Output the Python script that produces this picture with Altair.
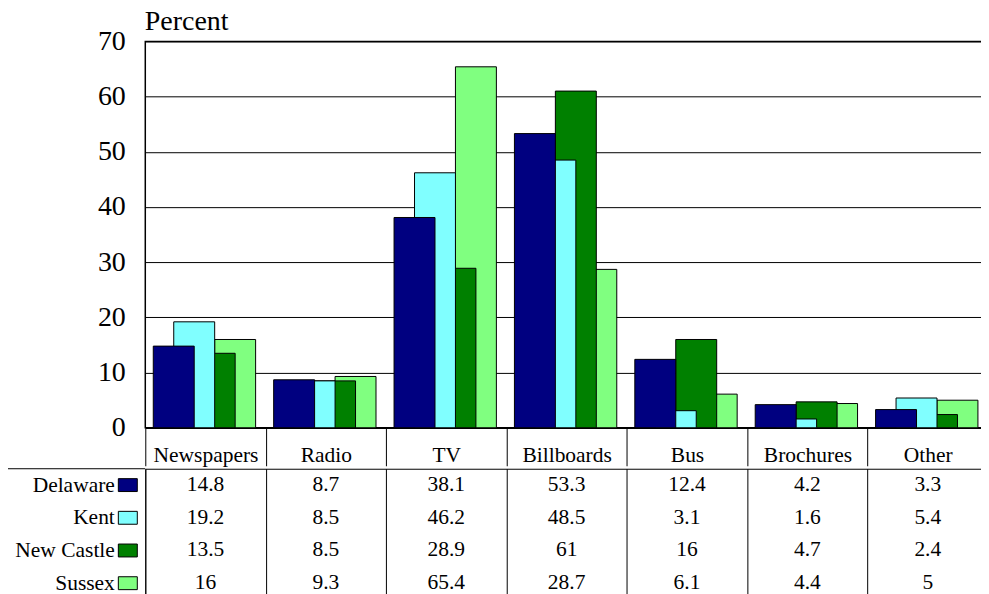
import pandas as pd
import altair as alt

# Chart data
categories = ["Newspapers", "Radio", "TV", "Billboards", "Bus", "Brochures", "Other"]
counties = ["Delaware", "Kent", "New Castle", "Sussex"]
colors = ["#000080", "#80ffff", "#008000", "#80ff80"]

delaware = [14.8, 8.7, 38.1, 53.3, 12.4, 4.2, 3.3]
kent = [19.2, 8.5, 46.2, 48.5, 3.1, 1.6, 5.4]
new_castle = [13.5, 8.5, 28.9, 61, 16, 4.7, 2.4]
sussex = [16, 9.3, 65.4, 28.7, 6.1, 4.4, 5]

y_ticks = [0, 10, 20, 30, 40, 50, 60, 70]

FONT = "'Liberation Serif', 'DejaVu Serif', serif"

# Long table, Sussex first so that Delaware ends up drawn on top
series = {"Delaware": delaware, "Kent": kent, "New Castle": new_castle, "Sussex": sussex}
rows = []
for county in reversed(counties):
    for cat, v in zip(categories, series[county]):
        rows.append({"county": county, "category": cat, "value": v, "text": f"{v:g}"})
df = pd.DataFrame(rows)


# Pad the numbers so they line up on the right inside each column
def units(s):
    return sum(1 if ch == "." else 2 for ch in s)


widest = df.groupby("category")["text"].apply(lambda s: max(units(t) for t in s))


def pad(row):
    extra = widest[row["category"]] - units(row["text"])
    return "\u2007" * (extra // 2) + "\u2008" * (extra % 2) + row["text"]


df["label"] = df.apply(pad, axis=1)

color = alt.Color("county:N", scale=alt.Scale(domain=counties, range=colors), legend=None)
band = alt.Scale(paddingInner=0, paddingOuter=0)

# Bars
bars = alt.Chart(df).mark_bar(width=41, stroke="black", strokeWidth=1).encode(
    x=alt.X("category:N", sort=categories, scale=band,
            axis=alt.Axis(title=None, labelAngle=0, labelFont=FONT, labelFontSize=21.5,
                          labelColor="black", tickColor="black", tickSize=38,
                          tickBand="extent", labelPadding=-21,
                          domainColor="black", domainWidth=1.5)),
    xOffset=alt.XOffset("county:N", sort=counties,
                        scale=alt.Scale(domain=counties, range=[18.25, 100.25],
                                        paddingInner=0, paddingOuter=0)),
    y=alt.Y("value:Q", scale=alt.Scale(domain=[0, 70], nice=False),
            axis=alt.Axis(values=y_ticks, title="Percent", grid=True, gridColor="black",
                          domain=False, ticks=False, labelFont=FONT, labelFontSize=28,
                          labelPadding=20, labelColor="black", titleFont=FONT,
                          titleAngle=0, titleX=-1, titleY=-34, titleAlign="left",
                          titleBaseline="top", titleFontSize=28,
                          titleFontWeight="normal", titleColor="black")),
    color=color,
).properties(width=844, height=387, view=alt.ViewBackground(stroke="black", strokeWidth=1.5))

# Data table under the chart
cells = alt.Chart(df).mark_text(font=FONT, fontSize=21.5, color="black").encode(
    x=alt.X("category:N", sort=categories, scale=band,
            axis=alt.Axis(title=None, labels=False, ticks=False, domain=False, grid=True,
                          gridColor="black", tickBand="extent")),
    y=alt.Y("county:N", sort=counties, scale=band,
            axis=alt.Axis(title=None, ticks=False, domain=False, labelFont=FONT,
                          labelFontSize=21.5, labelPadding=31, labelColor="black")),
    text="label:N",
)

swatches = alt.Chart(df[df["category"] == categories[0]]).mark_point(
    shape="M-1,-0.68H1V0.68H-1Z", size=361, filled=True, opacity=1,
    stroke="black", strokeWidth=1
).encode(
    x=alt.value(-17.5),
    y=alt.Y("county:N", sort=counties),
    color=color,
)

edge = pd.DataFrame({"edge": [0]})
top_rule = alt.Chart(edge).mark_rule(color="black").encode(
    x=alt.value(-138), x2=alt.value(0), y=alt.value(0))
left_rule = alt.Chart(edge).mark_rule(color="black").encode(
    x=alt.value(-138), y=alt.value(0), y2=alt.value(131))

table = alt.layer(cells, swatches, top_rule, left_rule).properties(
    width=844, height=131, view=alt.ViewBackground(stroke="black", strokeWidth=1))

chart = alt.vconcat(bars, table, spacing=0).properties(
    padding={"left": -1.5, "top": -2, "right": -9, "bottom": 0}
).configure(font=FONT)

chart.save("out.html", embed_options={"renderer": "svg", "actions": False})
